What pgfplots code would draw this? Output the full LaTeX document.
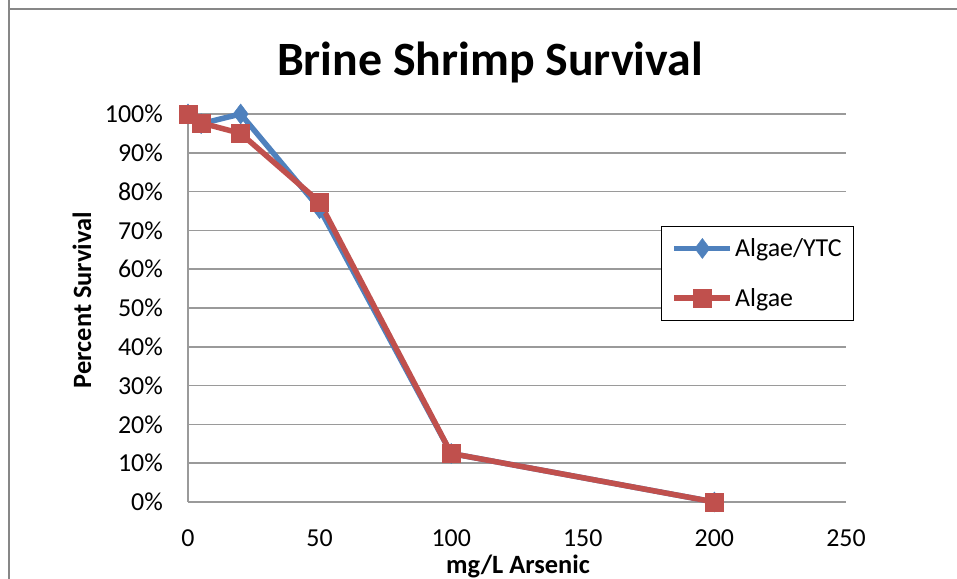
\documentclass[border=0pt]{standalone}
\usepackage{pgfplots}
\pgfplotsset{compat=1.18}
\usepackage{fontspec}
\setmainfont{Carlito}
\definecolor{cblue}{HTML}{4F81BD}
\definecolor{cred}{HTML}{C0504D}
\definecolor{gridgray}{HTML}{9A9A9A}
\definecolor{framegray}{HTML}{878787}
\begin{document}
\begin{tikzpicture}[x=1bp,y=1bp]
\useasboundingbox (-188,-77) rectangle (769,502);
\draw[framegray, line width=2bp] (-179,600) -- (-179,493) -- (900,493);
\draw[framegray, line width=2bp] (-179,493) -- (-179,-200);
\begin{axis}[
  at={(0,0)}, anchor=origin,
  scale only axis, width=658bp, height=388bp,
  xmin=0, xmax=250, ymin=0, ymax=1,
  xtick={0,50,100,150,200,250},
  ytick={0,0.1,0.2,0.3,0.4,0.5,0.6,0.7,0.8,0.9,1},
  yticklabels={0\%,10\%,20\%,30\%,40\%,50\%,60\%,70\%,80\%,90\%,100\%},
  axis x line*=bottom, axis y line*=left,
  axis line style={gridgray, line width=1.5bp, -},
  major tick length=0pt,
  ymajorgrids, grid style={gridgray, line width=1.5bp},
  /pgf/number format/assume math mode=true,
  tick label style={font=\fontsize{26}{30}\selectfont, text=black},
  yticklabel style={anchor=east, inner sep=0pt, xshift=-25bp},
  xticklabel style={anchor=north, inner sep=0pt, yshift=-27bp},
  clip=false,
  legend style={at={(rel axis cs:0.719,0.712)}, anchor=north west,
    draw=black, line width=1bp, inner xsep=10bp, inner ysep=10.5bp,
    font=\fontsize{26}{30}\selectfont, row sep=26bp,
    nodes={inner sep=2bp}},
  legend cell align=left,
  legend image code/.code={\draw[mark repeat=2,mark phase=2,#1] plot coordinates {(0bp,0bp) (28bp,0bp) (56bp,0bp)};},
]
\addplot[cblue, line width=5.5bp, mark=diamond*, mark size=10bp, mark options={fill=cblue, draw=cblue, line width=0.5bp}]
  coordinates {(0,1.0) (5,0.975) (20,1.0) (50,0.756) (100,0.125) (200,0.0)};
\addlegendentry{Algae/YTC}
\addplot[cred, line width=5.5bp, mark=square*, mark size=9bp, mark options={fill=cred, draw=cred, line width=0.5bp}]
  coordinates {(0,1.0) (5,0.977) (20,0.95) (50,0.773) (100,0.125) (200,0.0)};
\addlegendentry{Algae}
\end{axis}
\node[font=\bfseries\fontsize{48}{56}\selectfont] at (302,440) {Brine Shrimp Survival};
\node[font=\bfseries\fontsize{26.5}{30}\selectfont, rotate=90] at (-106,202) {Percent Survival};
\node[font=\bfseries\fontsize{26.5}{30}\selectfont, anchor=base] at (330,-72) {mg/L Arsenic};
\end{tikzpicture}
\end{document}
